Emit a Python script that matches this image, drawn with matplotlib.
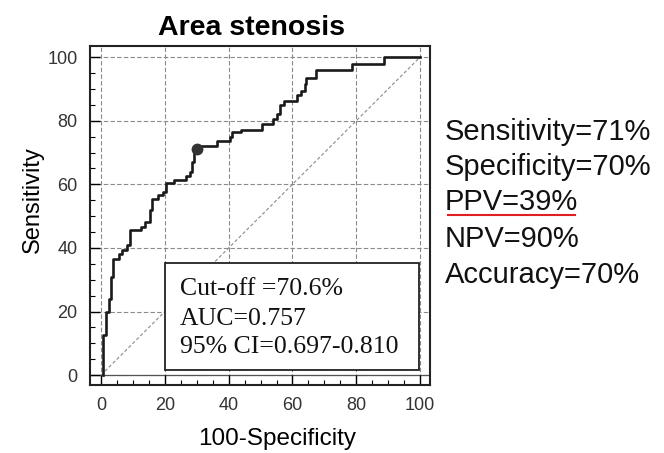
import matplotlib
matplotlib.use("Agg")
import matplotlib.pyplot as plt
from matplotlib.patches import Rectangle
from matplotlib.lines import Line2D

# ROC curve corners (100-specificity, sensitivity)
fpr = [0.6, 0.6, 1.6, 2.6, 3.2, 3.8, 5.5, 6.5, 8.0, 9.0, 12.5, 13.8, 15.3, 16.0,
       17.8, 19.3, 20.3, 23.0, 26.5, 27.8, 28.5, 29.2, 31.0, 36.2, 40.5, 41.0,
       44.0, 50.5, 53.8, 55.0, 56.0, 57.5, 61.5, 62.7, 63.8, 64.3, 67.4, 78.8,
       88.8, 100.0]
tpr = [0.0, 12.6, 20.0, 24.0, 31.0, 36.5, 38.0, 39.5, 41.0, 45.5, 46.5, 48.0,
       52.0, 55.5, 56.5, 57.5, 60.5, 61.5, 62.5, 64.0, 67.0, 71.0, 72.0, 73.5,
       75.0, 76.5, 77.0, 79.0, 80.5, 82.0, 85.0, 86.2, 88.0, 89.3, 91.5, 93.5,
       96.0, 97.8, 100.0, 100.0]

cutoff_point = (30, 71)
ticks = [0, 20, 40, 60, 80, 100]

box_lines = ["Cut-off =70.6%", "AUC=0.757", "95% CI=0.697-0.810"]
stats_lines = ["Sensitivity=71%", "Specificity=70%", "PPV=39%", "NPV=90%", "Accuracy=70%"]

W, H = 664, 453
fig = plt.figure(figsize=(W / 100, H / 100), dpi=100)
ax = fig.add_axes([90 / W, 1 - 385 / H, 340 / W, 339 / H])

ax.set_xlim(-3.45, 103.1)
ax.set_ylim(-3.1, 103.5)

# grid + chance line
for t in ticks:
    ax.axvline(t, color="#8a8a8a", lw=0.8, ls=(0, (4, 2)), zorder=1)
    ax.axhline(t, color="#8a8a8a", lw=0.8, ls=(0, (4, 2)), zorder=1)
ax.axhline(0, color="#555555", lw=0.9, zorder=1)
ax.plot([0, 100], [0, 100], color="#8a8a8a", lw=0.8, ls=(0, (3, 2)), zorder=2)

ax.plot(fpr, tpr, drawstyle="steps-post", color="#1a1a1a", lw=1.9, zorder=3)
ax.plot(*cutoff_point, "o", color="#333333", ms=7.5, zorder=4)

ax.set_xticks(ticks)
ax.set_yticks(ticks)
ax.set_xticks(range(0, 101, 5), minor=True)
ax.set_yticks(range(0, 101, 5), minor=True)
ax.tick_params(which="major", direction="in", length=7, width=1, pad=9,
               labelsize=13, labelcolor="#333333")
ax.tick_params(which="minor", direction="in", length=3.5, width=0.8)
for lab in ax.get_xticklabels() + ax.get_yticklabels():
    lab.set_family(["Liberation Sans Narrow", "Liberation Sans", "DejaVu Sans"])
    lab.set_fontstretch("condensed")
for s in ax.spines.values():
    s.set_linewidth(1.5)
    s.set_color("#222222")

# info box
ax.add_patch(Rectangle((20, 1.6), 79.7, 33.6, facecolor="white",
                       edgecolor="#222222", lw=1.3, zorder=5))
for txt, yb in zip(box_lines, [25.2, 15.7, 6.9]):
    ax.text(24.7, yb, txt, family="Liberation Serif", fontsize=18.5,
            va="baseline", ha="left", color="#111111", zorder=6)

fig.text(251 / W, 1 - 35 / H, "Area stenosis", family="Liberation Sans",
         fontsize=20.5, fontweight="bold", ha="center", va="baseline")
fig.text(33 / W, 1 - 200 / H, "Sensitivity", family="Liberation Sans",
         fontsize=17, rotation=90, ha="center", va="center")
fig.text(277 / W, 1 - 445 / H, "100-Specificity", family="Liberation Sans",
         fontsize=17.5, ha="center", va="baseline")

stat_texts = []
for txt, yb in zip(stats_lines, [140, 175, 210, 247, 283]):
    stat_texts.append(fig.text(445 / W, 1 - yb / H, txt, family="Liberation Sans",
                               fontsize=21, ha="left", va="baseline", color="#111111"))

# red underline under PPV
fig.canvas.draw()
bb = stat_texts[2].get_window_extent().transformed(fig.transFigure.inverted())
uy = 1 - 215 / H
fig.add_artist(Line2D([bb.x0 + 3 / W, bb.x1 - 3 / W], [uy, uy], color="#e02020", lw=1.5))

fig.savefig("out.png", dpi=100)
